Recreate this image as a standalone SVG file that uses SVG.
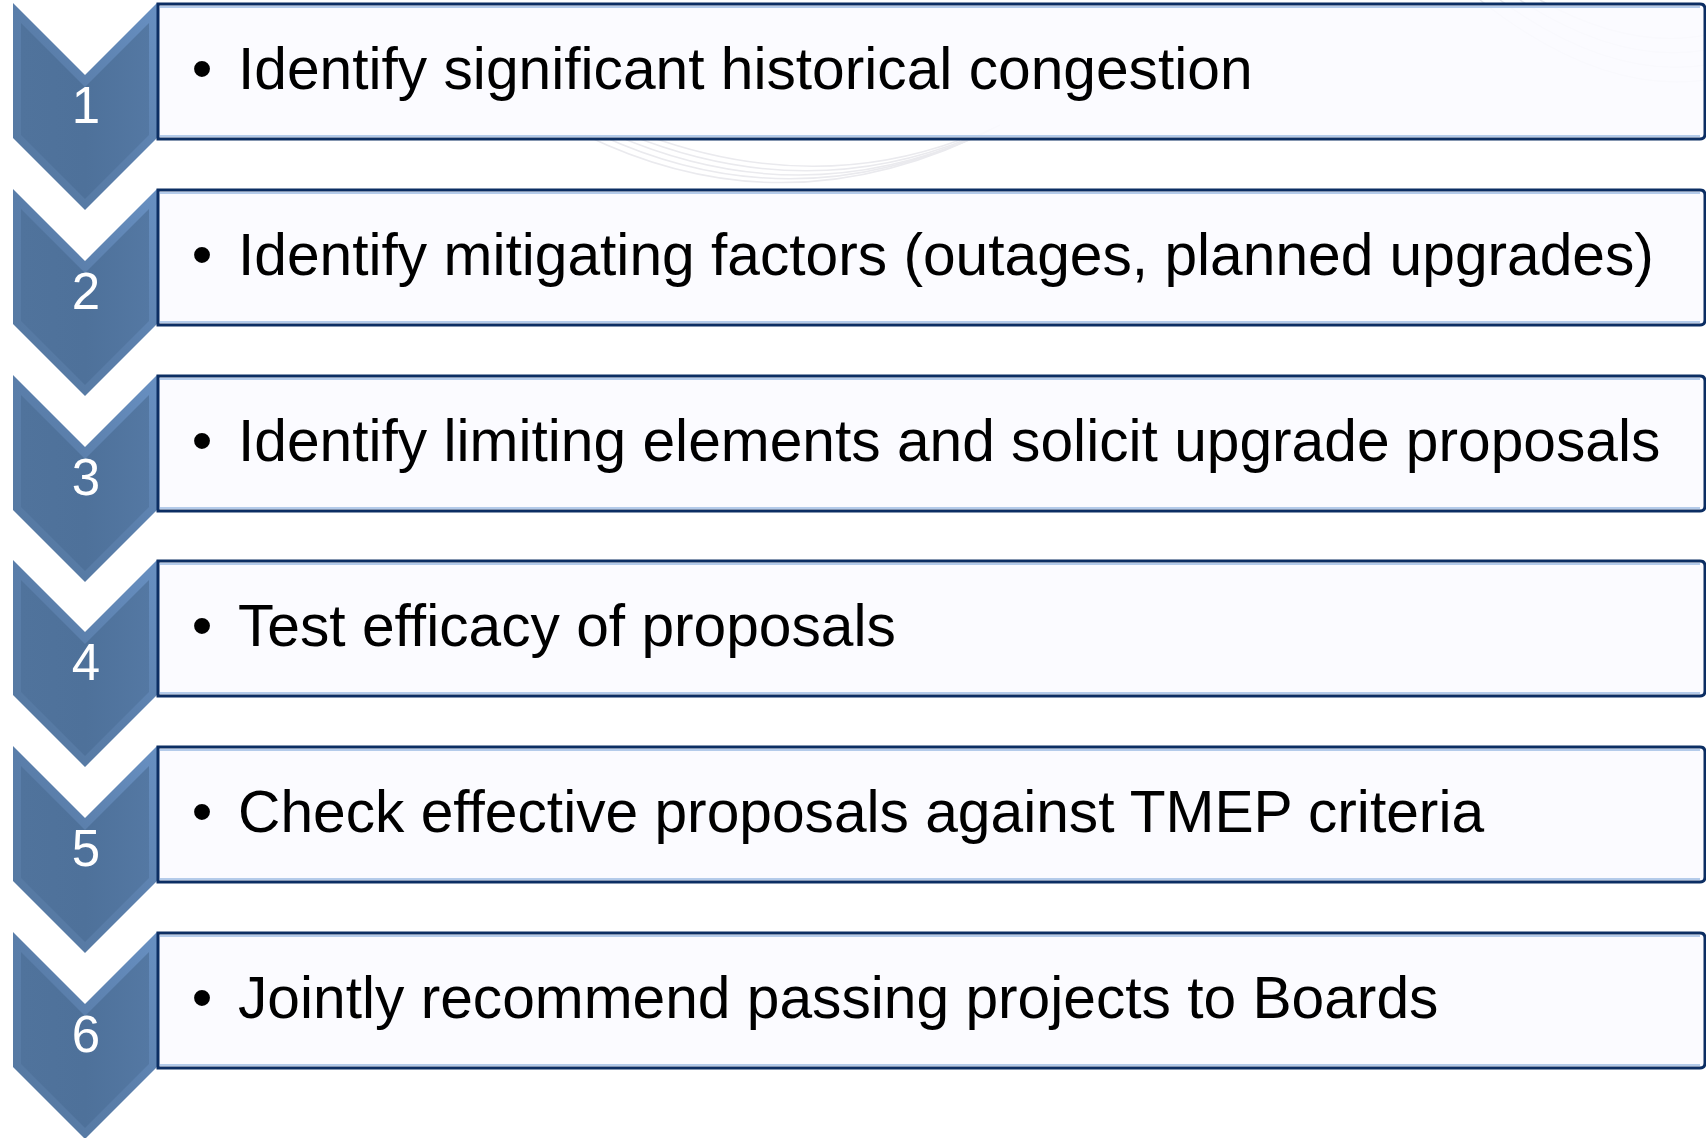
<svg xmlns="http://www.w3.org/2000/svg" width="1706" height="1138" viewBox="0 0 1706 1138">
<defs>
<style>
.box{fill:#fbfaff;fill-opacity:0.88;stroke:#0c2e63;stroke-width:3}
.glow{fill:none;stroke:#b4cbea;stroke-width:2}
.txt{font-family:"Liberation Sans",Arial,sans-serif;font-size:58.7px;fill:#000}
.num{font-family:"Liberation Sans",Arial,sans-serif;font-size:51px;fill:#fff;text-anchor:middle}
.bul{font-family:"Liberation Sans",Arial,sans-serif;font-size:58.7px;fill:#000;text-anchor:middle}
.outer{fill:url(#gOuter)}
.inner{fill:url(#gInner)}
.wm{fill:none;stroke:#eaeaee;stroke-width:1.5}
</style>
<linearGradient id="gOuter" x1="0" y1="1" x2="1" y2="0">
<stop offset="0" stop-color="#54779f"/>
<stop offset="0.5" stop-color="#5a7eaa"/>
<stop offset="1" stop-color="#6890c2"/>
</linearGradient>
<linearGradient id="gInner" x1="0" y1="0" x2="1" y2="0">
<stop offset="0" stop-color="#50739c"/>
<stop offset="0.5" stop-color="#4e719a"/>
<stop offset="1" stop-color="#5478a3"/>
</linearGradient>
<g id="chev">
<path class="outer" d="M13,0 L85,72 L157,0 L157,135 L85,207 L13,135 Z"/>
<path class="inner" d="M21,20 L85,84 L149,20 L149,132 L85,196 L21,132 Z"/>
</g>
</defs>
<rect width="1706" height="1138" fill="#ffffff"/>
<g id="watermark">
<path class="wm" d="M585,135 Q790,235 1000,125"/>
<path class="wm" d="M600,135 Q795,225 990,130"/>
<path class="wm" d="M615,135 Q800,215 980,135"/>
<path class="wm" d="M630,135 Q805,205 970,138"/>
<path class="wm" d="M645,135 Q810,195 960,140"/>
<path class="wm" d="M1480,0 Q1600,95 1706,80"/>
<path class="wm" d="M1500,0 Q1610,80 1706,65"/>
<path class="wm" d="M1520,0 Q1620,65 1706,50"/>
<path class="wm" d="M1540,0 Q1630,50 1706,35"/>
</g>
<g id="connectors"></g>
<g id="node1">
<use href="#chev" y="3"/>
<path class="box" d="M158,4 L1700,4 Q1705,4 1705,9 L1705,134 Q1705,139 1700,139 L158,139 Z"/>
<path class="glow" d="M160,7 L1700,7 M160,136 L1700,136"/>
<text class="num" x="86" y="123">1</text>
<text class="bul" x="202" y="89">•</text>
<text class="txt" x="238" y="89">Identify significant historical congestion</text>
</g>
<g id="node2">
<use href="#chev" y="189"/>
<path class="box" d="M158,190 L1700,190 Q1705,190 1705,195 L1705,320 Q1705,325 1700,325 L158,325 Z"/>
<path class="glow" d="M160,193 L1700,193 M160,322 L1700,322"/>
<text class="num" x="86" y="309">2</text>
<text class="bul" x="202" y="275">•</text>
<text class="txt" x="238" y="275">Identify mitigating factors (outages, planned upgrades)</text>
</g>
<g id="node3">
<use href="#chev" y="375"/>
<path class="box" d="M158,376 L1700,376 Q1705,376 1705,381 L1705,506 Q1705,511 1700,511 L158,511 Z"/>
<path class="glow" d="M160,379 L1700,379 M160,508 L1700,508"/>
<text class="num" x="86" y="495">3</text>
<text class="bul" x="202" y="461">•</text>
<text class="txt" x="238" y="461">Identify limiting elements and solicit upgrade proposals</text>
</g>
<g id="node4">
<use href="#chev" y="560"/>
<path class="box" d="M158,561 L1700,561 Q1705,561 1705,566 L1705,691 Q1705,696 1700,696 L158,696 Z"/>
<path class="glow" d="M160,564 L1700,564 M160,693 L1700,693"/>
<text class="num" x="86" y="680">4</text>
<text class="bul" x="202" y="646">•</text>
<text class="txt" x="238" y="646">Test efficacy of proposals</text>
</g>
<g id="node5">
<use href="#chev" y="746"/>
<path class="box" d="M158,747 L1700,747 Q1705,747 1705,752 L1705,877 Q1705,882 1700,882 L158,882 Z"/>
<path class="glow" d="M160,750 L1700,750 M160,879 L1700,879"/>
<text class="num" x="86" y="866">5</text>
<text class="bul" x="202" y="832">•</text>
<text class="txt" x="238" y="832">Check effective proposals against TMEP criteria</text>
</g>
<g id="node6">
<use href="#chev" y="932"/>
<path class="box" d="M158,933 L1700,933 Q1705,933 1705,938 L1705,1063 Q1705,1068 1700,1068 L158,1068 Z"/>
<path class="glow" d="M160,936 L1700,936 M160,1065 L1700,1065"/>
<text class="num" x="86" y="1052">6</text>
<text class="bul" x="202" y="1018">•</text>
<text class="txt" x="238" y="1018">Jointly recommend passing projects to Boards</text>
</g>
</svg>
